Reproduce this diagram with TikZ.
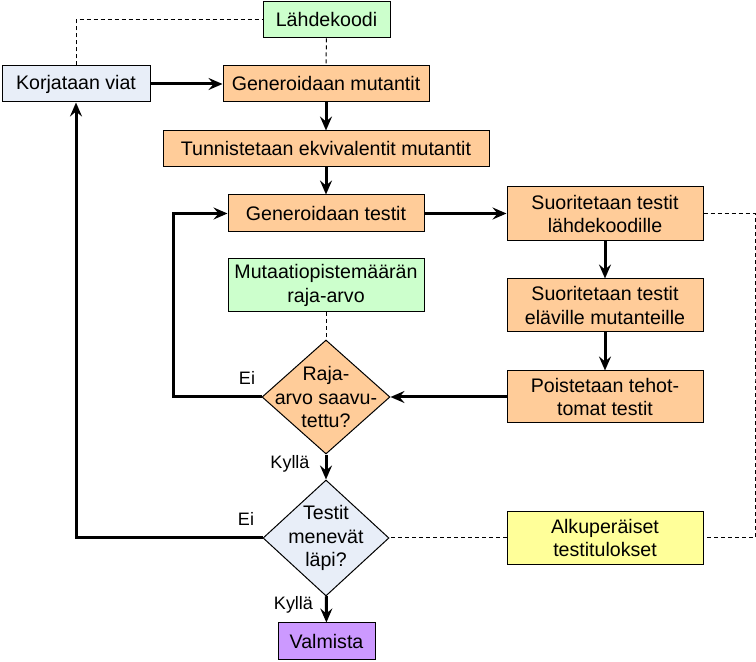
\documentclass[tikz,border=0pt]{standalone}
\usepackage{fontspec}
\setmainfont{Liberation Sans}
\usetikzlibrary{arrows.meta,positioning,shapes.geometric}
\definecolor{orangefill}{RGB}{255,204,153}
\definecolor{greenfill}{RGB}{204,255,204}
\definecolor{bluefill}{RGB}{232,238,248}
\definecolor{yellowfill}{RGB}{255,255,153}
\definecolor{purplefill}{RGB}{204,153,255}
\tikzset{
  box/.style={draw, line width=0.5pt, align=center, inner sep=1pt,
    font=\fontsize{9.8}{11.8}\selectfont},
  decision/.style={draw, line width=0.5pt, diamond, inner sep=0pt},
  txt/.style={align=center, inner sep=0pt, font=\fontsize{9.8}{11.6}\selectfont},
  lbl/.style={inner sep=0pt, font=\fontsize{9}{10}\selectfont},
  flow/.style={line width=1.5pt, -{Stealth[length=7pt,width=6pt,inset=2.5pt]}},
  link/.style={line width=0.5pt, dash pattern=on 2pt off 1.5pt},
}
\begin{document}
\begin{tikzpicture}[x=0.5pt,y=-0.5pt]
	\useasboundingbox (0,0) rectangle (756,662);
	% boxes
	\node[box, fill=greenfill, minimum width=63.5pt, minimum height=18pt] (src) at (326.5,20) {Lähdekoodi};
	\node[box, fill=bluefill, minimum width=74pt, minimum height=18pt] (fix) at (76,84) {Korjataan viat};
	\node[box, fill=orangefill, minimum width=103pt, minimum height=18pt] (genm) at (326,84) {Generoidaan mutantit};
	\node[box, fill=orangefill, minimum width=163pt, minimum height=18pt] (equiv) at (326,149) {Tunnistetaan ekvivalentit mutantit};
	\node[box, fill=orangefill, minimum width=98pt, minimum height=18.5pt] (gent) at (326,213.5) {Generoidaan testit};
	\node[box, fill=greenfill, minimum width=98pt, minimum height=26.5pt] (limit) at (326,285.5) {Mutaatiopistemäärän\\raja-arvo};
	\node[box, fill=orangefill, minimum width=98pt, minimum height=27pt] (runs) at (605,214) {Suoritetaan testit\\lähdekoodille};
	\node[box, fill=orangefill, minimum width=98pt, minimum height=26.5pt] (runm) at (605,305.5) {Suoritetaan testit\\eläville mutanteille};
	\node[box, fill=orangefill, minimum width=98pt, minimum height=26pt] (prune) at (605,397) {Poistetaan tehot-\\tomat testit};
	\node[box, fill=yellowfill, minimum width=98pt, minimum height=26.5pt] (orig) at (605,538) {Alkuperäiset\\testitulokset};
	\node[box, fill=purplefill, minimum width=48.5pt, minimum height=18.5pt] (done) at (326.5,641.5) {Valmista};
	
	% decisions
	\node[decision, fill=orangefill, minimum width=64pt, minimum height=57pt] (d1) at (326,397) {};
	\node[txt] (d1t) at (d1) {Raja-\\arvo saavu-\\tettu?};
	\node[decision, fill=bluefill, minimum width=63pt, minimum height=58pt] (d2) at (326,538) {};
	\node[txt] (d2t) at (d2) {Testit\\menevät\\läpi?};
	
	% helper corners
	\coordinate (back1) at (173,213.5);
	\coordinate (rside) at (755,380);
	
	% flow
	\draw[flow] (fix) -- (genm);
	\draw[flow] (genm) -- (equiv);
	\draw[flow] (equiv) -- (gent);
	\draw[flow] (gent.east) -- (gent.east -| runs.west);
	\draw[flow] (runs) -- (runm);
	\draw[flow] (runm) -- (prune);
	\draw[flow] (prune) -- (d1);
	\draw[flow] (d1) -- (d2);
	\draw[flow] (d2) -- (done);
	\draw[flow] (d1.west) -| (back1) -- (gent.west);
	\draw[flow] (d2.west) -| (fix.south);
	
	% dashed links
	\draw[link] (fix.north) |- (src.west);
	\draw[link] (src) -- (genm);
	\draw[link] (limit) -- (d1);
	\draw[link] (runs.east) -| (rside) |- (orig.east);
	\draw[link] (orig) -- (d2);
	
	% labels
	\node[lbl] (no1) at (247,378) {Ei};
	\node[lbl] (no2) at (246,519) {Ei};
	\node[lbl] (yes1) at (290,464) {Kyllä};
	\node[lbl] (yes2) at (293.5,605) {Kyllä};
\end{tikzpicture}
\end{document}
